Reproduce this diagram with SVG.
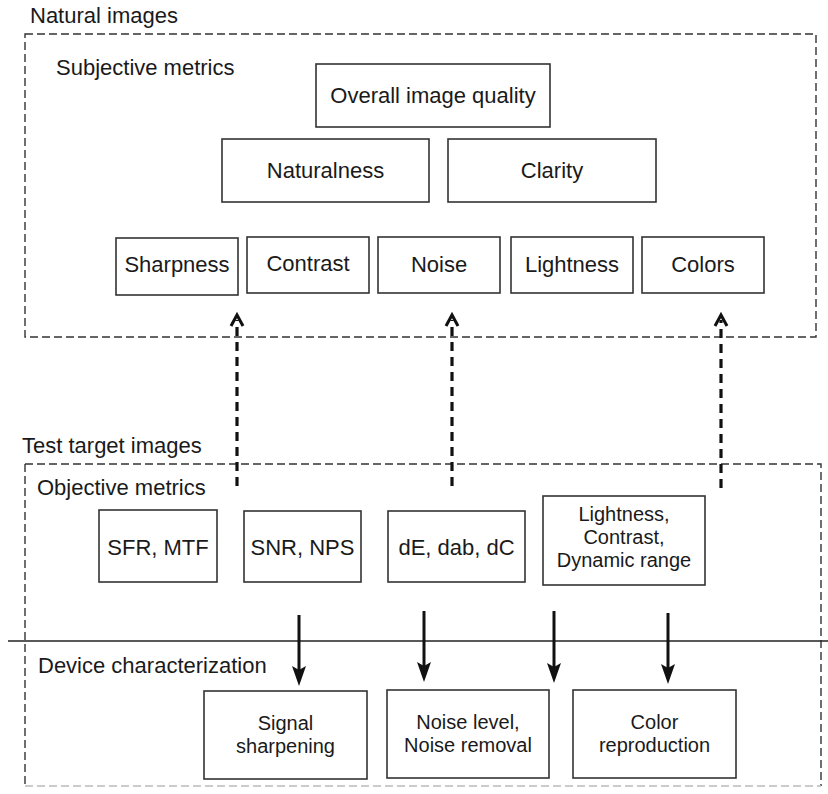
<svg xmlns="http://www.w3.org/2000/svg" width="828" height="794" viewBox="0 0 828 794">
<style>
text{font-family:"Liberation Sans",Arial,sans-serif;font-size:22px;fill:#1a1a1a}
.c{text-anchor:middle}
.m{font-size:20px}
.box{fill:#fff;stroke:#333;stroke-width:1.6}
.dash{fill:none;stroke:#333;stroke-width:1.4;stroke-dasharray:8 4}
.da{fill:none;stroke:#111;stroke-width:3.2;stroke-dasharray:9 6}
.sa{fill:none;stroke:#111;stroke-width:3}
.oh{fill:none;stroke:#111;stroke-width:3}
.sh{fill:#111}
</style>
<rect width="828" height="794" fill="#fff"/>

<g id="group-natural">
<text x="30" y="23">Natural images</text>
<rect class="dash" x="25" y="34" width="791" height="303"/>
<text x="56" y="75">Subjective metrics</text>
</g>
<g id="n-overall"><rect class="box" x="316" y="64" width="234" height="63"/><text class="c" x="433" y="103">Overall image quality</text></g>
<g id="n-naturalness"><rect class="box" x="222" y="139" width="207" height="63"/><text class="c" x="325.5" y="178">Naturalness</text></g>
<g id="n-clarity"><rect class="box" x="448" y="139" width="208" height="63"/><text class="c" x="552" y="178">Clarity</text></g>
<g id="n-sharpness"><rect class="box" x="116" y="238" width="122" height="57"/><text class="c" x="177" y="272">Sharpness</text></g>
<g id="n-contrast"><rect class="box" x="247" y="237" width="122" height="56"/><text class="c" x="308" y="271">Contrast</text></g>
<g id="n-noise"><rect class="box" x="378" y="237" width="122" height="56"/><text class="c" x="439" y="272">Noise</text></g>
<g id="n-lightness"><rect class="box" x="511" y="237" width="122" height="56"/><text class="c" x="572" y="272">Lightness</text></g>
<g id="n-colors"><rect class="box" x="642" y="237" width="122" height="56"/><text class="c" x="703" y="272">Colors</text></g>

<g id="group-test">
<text x="22" y="453">Test target images</text>
<path class="dash" d="M25,464 H821 V786 M25,464 V786"/>
<path d="M25,786 H821" fill="none" stroke="#bbb" stroke-width="1.4" stroke-dasharray="8 4"/>
<text x="37" y="495">Objective metrics</text>
<text x="38" y="673">Device characterization</text>
</g>
<g id="n-sfr"><rect class="box" x="99" y="510" width="118" height="72"/><text class="c" x="158" y="555">SFR, MTF</text></g>
<g id="n-snr"><rect class="box" x="244" y="511" width="117" height="71"/><text class="c" x="302.5" y="555">SNR, NPS</text></g>
<g id="n-de"><rect class="box" x="388" y="511" width="137" height="71"/><text class="c" x="456.5" y="555">dE, dab, dC</text></g>
<g id="n-ldr"><rect class="box" x="543" y="496" width="162" height="89"/><text class="c m" x="624" y="521">Lightness,</text><text class="c m" x="624" y="544">Contrast,</text><text class="c m" x="624" y="567">Dynamic range</text></g>
<g id="n-signal"><rect class="box" x="204" y="691" width="163" height="88"/><text class="c m" x="285.5" y="730">Signal</text><text class="c m" x="285.5" y="753">sharpening</text></g>
<g id="n-noiselevel"><rect class="box" x="387" y="690" width="162" height="88"/><text class="c m" x="468" y="729">Noise level,</text><text class="c m" x="468" y="752">Noise removal</text></g>
<g id="n-color"><rect class="box" x="573" y="690" width="163" height="88"/><text class="c m" x="654.5" y="729">Color</text><text class="c m" x="654.5" y="752">reproduction</text></g>

<g id="connectors">
<line x1="8" y1="641" x2="828" y2="641" stroke="#222" stroke-width="1.6"/>
<line class="da" x1="237" y1="486" x2="237" y2="320"/>
<line class="da" x1="452" y1="486" x2="452" y2="320"/>
<line class="da" x1="721" y1="488" x2="721" y2="320"/>
<path class="oh" d="M231,326 L237,315 L243,326"/>
<path class="oh" d="M446,326 L452,315 L458,326"/>
<path class="oh" d="M715,326 L721,315 L727,326"/>
<line class="sa" x1="299" y1="615" x2="299" y2="676"/>
<line class="sa" x1="424" y1="611" x2="424" y2="672"/>
<line class="sa" x1="554" y1="611" x2="554" y2="673"/>
<line class="sa" x1="668" y1="613" x2="668" y2="674"/>
<path class="sh" d="M292,666 L299,670 L306,666 L299,686 Z"/>
<path class="sh" d="M417,662 L424,666 L431,662 L424,682 Z"/>
<path class="sh" d="M547,663 L554,667 L561,663 L554,683 Z"/>
<path class="sh" d="M661,664 L668,668 L675,664 L668,684 Z"/>
</g>
</svg>
